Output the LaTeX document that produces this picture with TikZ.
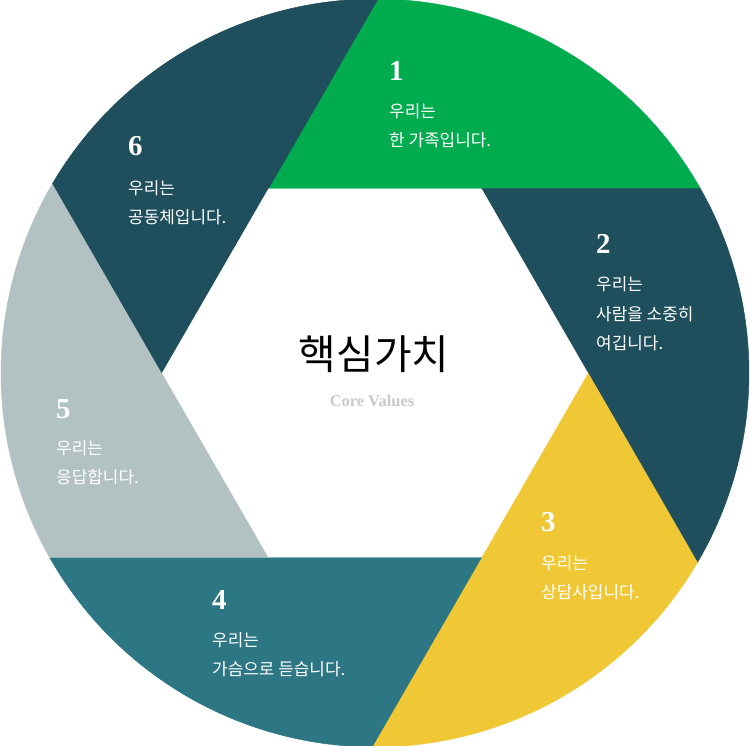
\documentclass[tikz,border=0pt]{standalone}
\usepackage{fontspec}
\setmainfont{Liberation Serif}
\newfontfamily\kor{Noto Sans CJK KR}
\definecolor{cgreen}{HTML}{00AC4E}
\definecolor{cdark}{HTML}{1F4F5C}
\definecolor{cyellow}{HTML}{F0C836}
\definecolor{cteal}{HTML}{2D7683}
\definecolor{cgrey}{HTML}{B2C2C3}
\definecolor{csub}{HTML}{C8C8C8}
\begin{document}
\begin{tikzpicture}[x=1bp,y=1bp,
    numlabel/.style={anchor=base west,inner sep=0,text=white,font=\fontsize{29}{29}\selectfont\bfseries},
    desc/.style={anchor=base west,inner sep=0,text=white,align=left,font=\kor\fontsize{17}{30}\selectfont}]
    \useasboundingbox (0,0) rectangle (750,746);
    \def\R{374}
    \def\r{213}
    \pgfmathsetmacro\phiang{asin(\r*sin(60)/\R)}
    % six blades round the hexagon
    \begin{scope}[shift={(375,373)}]
        \foreach \a/\col in {120/cgreen,60/cdark,0/cyellow,-60/cteal,-120/cgrey,180/cdark}{
            \filldraw[fill=\col,draw=\col,line width=0.5] (\a:\r) -- ({\a-60+\phiang}:\R)
                arc[start angle={\a-60+\phiang},end angle={\a-120+\phiang},radius=\R]
                -- ({\a-60}:\r) -- cycle;
        }
        \fill[white] (0:\r) -- (60:\r) -- (120:\r) -- (180:\r) -- (240:\r) -- (300:\r) -- cycle;
    \end{scope}
    \node[font=\kor\fontsize{41}{41}\selectfont] (title) at (374,392) {핵심가치};
    \node[text=csub,font=\fontsize{16.5}{16.5}\selectfont\bfseries] (sub) at (372,345) {Core Values};
    % base of a text block = its last line
    \node[numlabel] (n1) at (389,665) {1};
    \node[desc] (d1) at (389,599) {우리는\\한 가족입니다.};
    \node[numlabel] (n2) at (596,492) {2};
    \node[desc] (d2) at (596,396) {우리는\\사람을 소중히\\여깁니다.};
    \node[numlabel] (n3) at (541,214) {3};
    \node[desc] (d3) at (541,147) {우리는\\상담사입니다.};
    \node[numlabel] (n4) at (212,136) {4};
    \node[desc] (d4) at (212,70) {우리는\\가슴으로 듣습니다.};
    \node[numlabel] (n5) at (56,327) {5};
    \node[desc] (d5) at (56,262) {우리는\\응답합니다.};
    \node[numlabel] (n6) at (128,590) {6};
    \node[desc] (d6) at (128,522) {우리는\\공동체입니다.};
\end{tikzpicture}
\end{document}
